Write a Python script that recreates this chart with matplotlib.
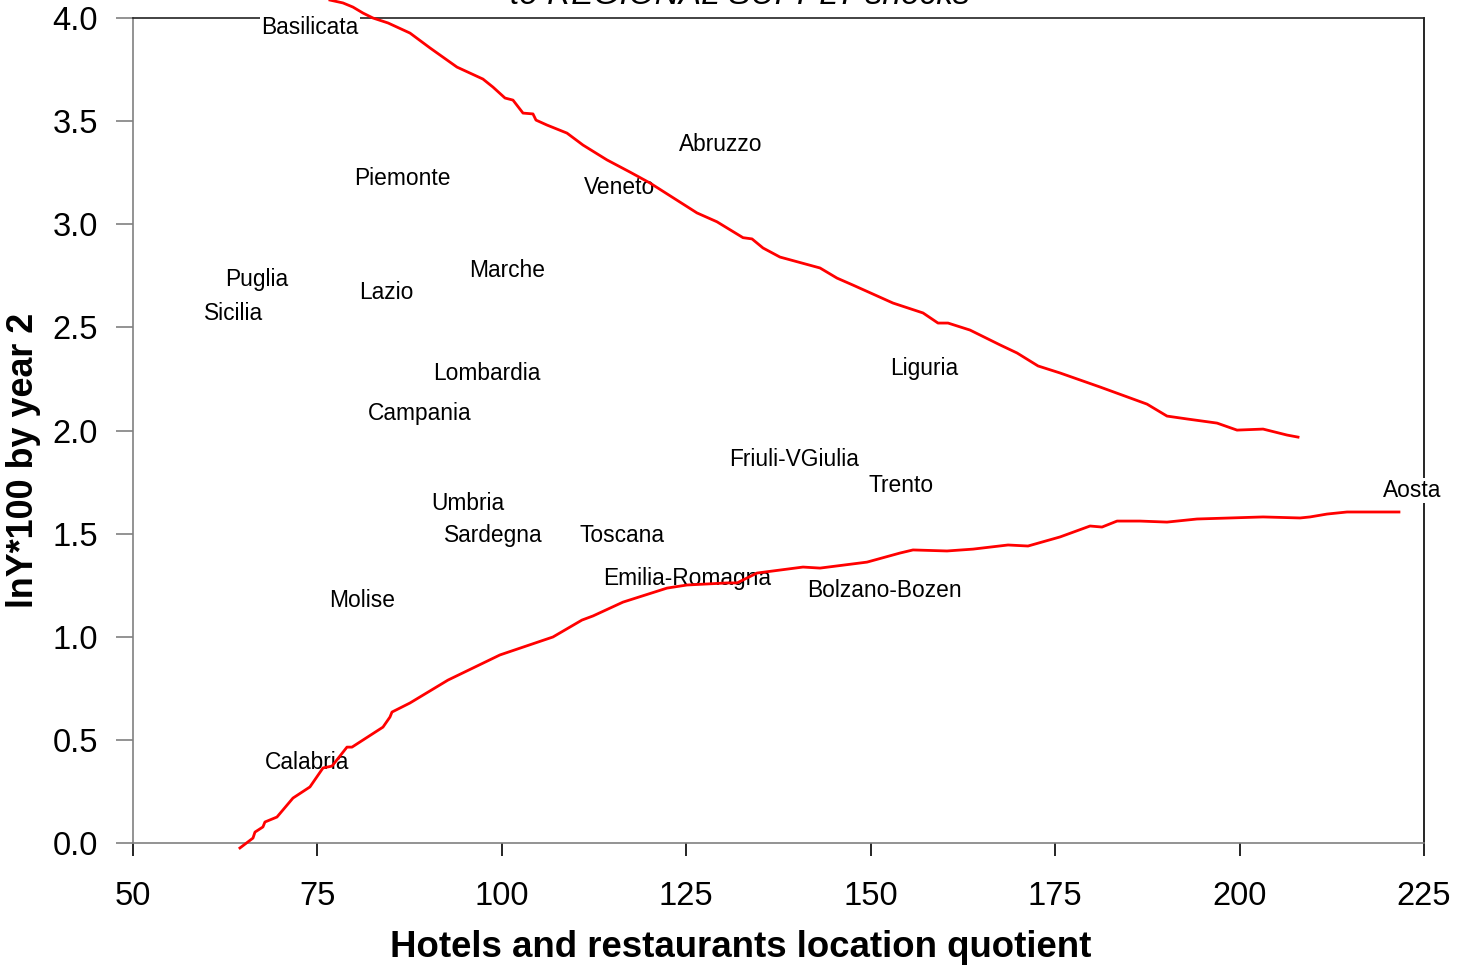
import numpy as np
import matplotlib
matplotlib.use("Agg")
import matplotlib.pyplot as plt

plt.rcParams['font.family'] = ['Liberation Sans', 'DejaVu Sans']

# regional labels placed at (location quotient, lnY*100)
regions = ['Basilicata', 'Abruzzo', 'Piemonte', 'Veneto', 'Puglia', 'Marche',
           'Lazio', 'Sicilia', 'Lombardia', 'Liguria', 'Campania',
           'Friuli-VGiulia', 'Trento', 'Aosta', 'Umbria', 'Sardegna',
           'Toscana', 'Emilia-Romagna', 'Bolzano-Bozen', 'Molise', 'Calabria']
reg_x = [74.0, 129.6, 86.5, 115.9, 66.8, 100.7, 84.4, 63.7, 97.9, 157.2, 88.9,
         139.6, 154.1, 223.4, 95.4, 98.9, 116.3, 125.1, 151.8, 81.0, 73.6]
reg_y = [3.966, 3.40, 3.234, 3.19, 2.744, 2.788, 2.681, 2.579, 2.288, 2.313,
         2.095, 1.871, 1.745, 1.721, 1.658, 1.503, 1.503, 1.295, 1.236, 1.188,
         0.402]

# upper band
up_x = [76.70, 78.47, 79.82, 81.18, 82.53, 84.57, 87.55, 90.26, 93.92, 97.44,
        98.80, 100.43, 101.51, 102.87, 104.22, 104.63, 106.12, 108.83, 111.00,
        114.25, 117.37, 120.08, 126.45, 129.16, 132.69, 133.91, 135.40, 137.70,
        143.13, 145.43, 147.60, 153.02, 157.09, 159.12, 160.48, 163.46, 167.53,
        169.83, 172.68, 175.66, 181.08, 187.45, 190.16, 192.88, 196.94, 199.65,
        203.18, 206.43, 207.92]
up_y = [4.087, 4.073, 4.053, 4.024, 4.000, 3.976, 3.927, 3.855, 3.762, 3.704,
        3.665, 3.612, 3.602, 3.539, 3.535, 3.505, 3.481, 3.442, 3.384, 3.312,
        3.253, 3.200, 3.055, 3.012, 2.935, 2.929, 2.885, 2.841, 2.788, 2.739,
        2.705, 2.618, 2.570, 2.521, 2.521, 2.487, 2.415, 2.376, 2.313, 2.279,
        2.211, 2.128, 2.070, 2.056, 2.036, 2.002, 2.007, 1.978, 1.968]

# lower band
lo_x = [64.50, 66.27, 66.54, 67.62, 67.89, 69.52, 71.69, 73.99, 75.76, 76.98,
        79.01, 79.69, 83.89, 84.84, 85.11, 87.55, 92.70, 99.75, 106.93, 110.86,
        112.36, 116.42, 122.39, 125.10, 130.52, 131.88, 134.59, 140.82, 143.13,
        149.50, 153.97, 155.73, 160.34, 163.87, 168.61, 171.32, 175.66, 179.73,
        181.35, 183.39, 186.50, 190.16, 194.23, 203.18, 208.19, 209.55, 211.85,
        214.56, 221.60]
lo_y = [-0.024, 0.024, 0.053, 0.078, 0.102, 0.126, 0.218, 0.272, 0.364, 0.373,
        0.465, 0.465, 0.562, 0.611, 0.635, 0.679, 0.790, 0.912, 0.999, 1.081,
        1.101, 1.168, 1.236, 1.251, 1.261, 1.261, 1.309, 1.338, 1.333, 1.362,
        1.406, 1.421, 1.416, 1.425, 1.445, 1.440, 1.484, 1.537, 1.532, 1.561,
        1.561, 1.556, 1.571, 1.581, 1.576, 1.581, 1.595, 1.605, 1.605]

fig = plt.figure(figsize=(14.69, 9.68), dpi=100)
ax = fig.add_axes([0.0905, 0.1291, 0.8789, 0.8523])

ax.plot(up_x, up_y, color='red', lw=2.0, zorder=4, clip_on=False,
        solid_joinstyle='round')
ax.plot(lo_x, lo_y, color='red', lw=2.0, zorder=4, clip_on=False,
        solid_joinstyle='round')

for name, x, y in zip(regions, reg_x, reg_y):
    ax.text(x, y, name, ha='center', va='center_baseline', fontsize=16.4,
            zorder=3, bbox=dict(facecolor='white', edgecolor='none', pad=1.0))

ax.set_xlim(50, 225)
ax.set_ylim(0, 4)
ax.set_xticks(np.arange(50, 226, 25))
ax.set_yticks(np.arange(0, 4.01, 0.5))
ax.set_yticklabels([f'{v:.1f}' for v in np.arange(0, 4.01, 0.5)])

ax.spines['left'].set_color('#808080')
ax.spines['bottom'].set_color('#808080')
ax.spines['top'].set_color('#222222')
ax.spines['right'].set_color('black')
for s in ax.spines.values():
    s.set_linewidth(1.2)

ax.tick_params(axis='x', direction='out', length=9, width=1.2, color='black',
               pad=18, labelsize=23.5)
ax.tick_params(axis='y', direction='out', length=12, width=1.2,
               color='#808080', pad=13, labelsize=23.5)

ax.set_xlabel('Hotels and restaurants location quotient', fontsize=26.4,
              fontweight='bold')
ax.xaxis.set_label_coords(0.4706, -0.106)
ax.set_ylabel('lnY*100 by year 2', fontsize=25.8, fontweight='bold')
ax.yaxis.set_label_coords(-0.071, 0.4643)

fig.text(0.504, 1 - 4 / 968, 'to REGIONAL SUPPLY shocks', ha='center',
         va='baseline', fontsize=24, style='italic')

fig.savefig('out.png', dpi=100)
